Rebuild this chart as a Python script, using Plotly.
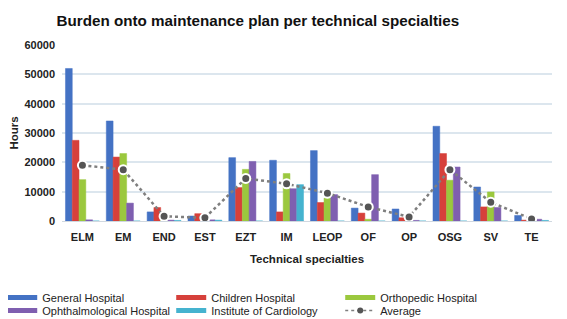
import plotly.graph_objects as go

categories = ["ELM", "EM", "END", "EST", "EZT", "IM", "LEOP", "OF", "OP", "OSG", "SV", "TE"]
general = [52000, 34100, 3100, 1700, 21600, 20700, 24000, 4400, 4100, 32300, 11600, 1900]
children = [27500, 21800, 4600, 2500, 11400, 3100, 6300, 2700, 1100, 23000, 4800, 300]
orthopedic = [14100, 23000, 600, 600, 17600, 16200, 7800, 600, 300, 13900, 9900, 900]
ophthalmological = [400, 6100, 300, 400, 20300, 11000, 9000, 15800, 200, 18400, 4600, 600]
cardiology = [0, 0, 200, 300, 0, 12400, 0, 0, 0, 0, 0, 200]
average = [19000, 17500, 1600, 1100, 14500, 12700, 9500, 4800, 1400, 17500, 6400, 700]

series = [
    ("General Hospital", general, "#4472C4", "legend"),
    ("Children Hospital", children, "#D6403B", "legend"),
    ("Orthopedic Hospital", orthopedic, "#9BC83E", "legend"),
    ("Ophthalmological Hospital", ophthalmological, "#7F5FB0", "legend2"),
    ("Institute of Cardiology", cardiology, "#45B3CF", "legend2"),
]

fig = go.Figure()
for name, vals, col, lg in series:
    fig.add_trace(go.Bar(x=categories, y=vals, name=name, showlegend=False,
                         marker=dict(color=col, line=dict(color=col, width=0.5))))
fig.add_trace(go.Scatter(x=categories, y=average, name="Average", mode="lines+markers",
                         showlegend=False,
                         line=dict(color="#7F7F7F", width=2.5, dash="dot"),
                         marker=dict(size=9, color="#555555", line=dict(color="white", width=2))))

# legend entries (line-style keys like the reference)
for name, vals, col, lg in series:
    fig.add_trace(go.Scatter(x=[None], y=[None], name=name, mode="lines", legend=lg,
                             line=dict(color=col, width=5)))
fig.add_trace(go.Scatter(x=[None], y=[None], name="Average", mode="lines+markers", legend="legend2",
                         line=dict(color="#7F7F7F", width=1.5, dash="dot"),
                         marker=dict(size=6, color="#555555")))

font = "Liberation Sans, Arial, sans-serif"
leg_common = dict(orientation="h", xanchor="left", yanchor="top",
                  entrywidth=124, entrywidthmode="pixels",
                  font=dict(size=11, color="#222222"), tracegroupgap=0,
                  itemwidth=30, bgcolor="rgba(0,0,0,0)")
fig.update_layout(
    width=559, height=311,
    margin=dict(l=54, r=15, t=37, b=98, autoexpand=False),
    paper_bgcolor="white", plot_bgcolor="white",
    font=dict(family=font, size=11, color="#222222"),
    title=dict(text="<b>Burden onto maintenance plan per technical specialties</b>",
               x=0.447, xanchor="center", y=0.958, yanchor="middle",
               font=dict(size=15.2, color="#111111")),
    barmode="group", bargap=0.17, bargroupgap=0,
    showlegend=True,
    legend=dict(x=-0.122, y=-0.352, **leg_common),
    legend2=dict(x=-0.122, y=-0.426, **leg_common),
)
fig.update_xaxes(title=dict(text="<b>Technical specialties</b>", font=dict(size=11.5), standoff=12),
                 tickfont=dict(size=11), tickprefix="<b>", ticksuffix="</b>",
                 range=[-0.5, len(categories) - 0.5], ticklabelstandoff=6,
                 showline=True, linecolor="#D0D8E0", ticks="", automargin=False)
fig.update_yaxes(title=dict(text="<b>Hours</b>", font=dict(size=11.5), standoff=16),
                 range=[0, 60000], dtick=10000, tickformat="d", tickfont=dict(size=11),
                 tickprefix="<b>", ticksuffix="</b>", automargin=False, ticklabelstandoff=6,
                 gridcolor="#DCE6EE", gridwidth=1.5, zeroline=False)

fig.write_html("out.html")
